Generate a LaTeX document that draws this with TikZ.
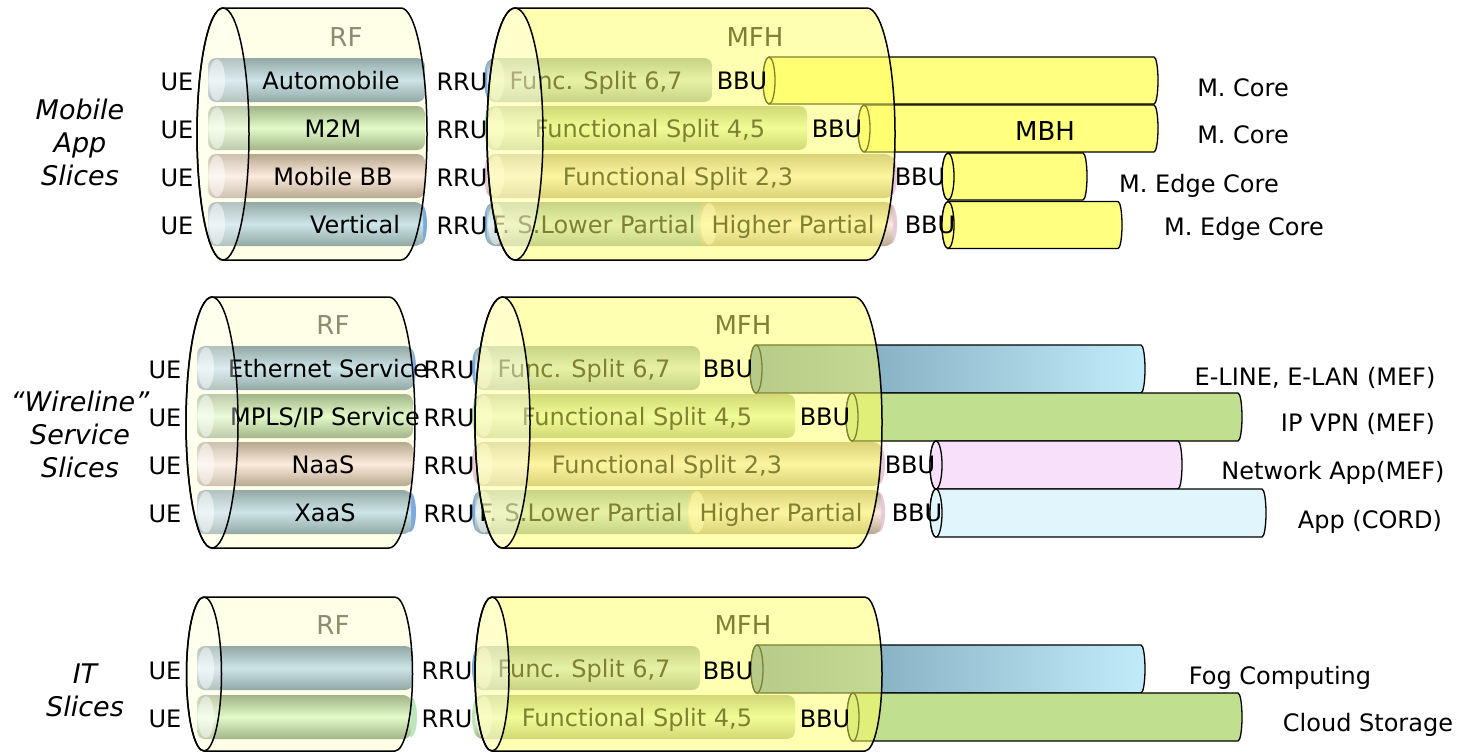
\documentclass[tikz,border=0pt]{standalone}
\usepackage{fontspec}
\setmainfont{DejaVu Sans}
\definecolor{rffill}{RGB}{255,255,232}
\definecolor{mfhfill}{RGB}{255,255,100}
\definecolor{bgD}{RGB}{145,168,165}
\definecolor{bgL}{RGB}{205,228,232}
\definecolor{grD}{RGB}{162,180,136}
\definecolor{grL}{RGB}{226,250,200}
\definecolor{peD}{RGB}{182,168,142}
\definecolor{peL}{RGB}{252,234,220}
\definecolor{capblue}{RGB}{125,170,225}
\definecolor{cappink}{RGB}{232,200,218}
\definecolor{capgreen}{RGB}{190,230,190}
\definecolor{mbh}{RGB}{255,255,128}
\definecolor{svcA}{RGB}{110,152,172}
\definecolor{svcB}{RGB}{192,236,250}
\definecolor{svcgreen}{RGB}{192,224,144}
\definecolor{svcpink}{RGB}{248,224,250}
\definecolor{svcsky}{RGB}{224,245,252}
\definecolor{rflbl}{RGB}{140,140,112}
\newcommand{\itube}[5]{%
  \shade[top color=#4, bottom color=#4, middle color=#5, rounded corners=8pt] (#1,-#3+22) rectangle (#2,-#3-22);
  \fill[white, opacity=0.5] (#1+9,-#3) ellipse[x radius=8, y radius=21];
}
\newcommand{\stube}[6]{%
  \path[#5, draw=black, line width=1.3pt] (#1,-#3+#4) -- (#2,-#3+#4) arc[start angle=90, end angle=-90, x radius=4, y radius=#4] -- (#1,-#3-#4) arc[start angle=270, end angle=90, x radius=6, y radius=#4] -- cycle;
  \path[#6, draw=black, line width=1.3pt] (#1,-#3) ellipse[x radius=6, y radius=#4];
}
\newcommand{\cylbody}[6]{%
  \path[#6] (#1,-#3+#5) -- (#2,-#3+#5) arc[start angle=90,end angle=-90,x radius=#4,y radius=#5] -- (#1,-#3-#5) arc[start angle=270,end angle=90,x radius=#4,y radius=#5] -- cycle;
}
\newcommand{\cylface}[5]{\path[#5] (#1,-#2) ellipse[x radius=#3, y radius=#4];}
\newcommand{\capdot}[3]{\fill[#3] (#1,-#2) ellipse[x radius=6, y radius=20];}
\begin{document}
\begin{tikzpicture}[x=1pt,y=1pt,
  lbl/.style={font=\fontsize{24}{28}\selectfont, inner sep=0pt, anchor=base},
  big/.style={font=\fontsize{26}{30}\selectfont, inner sep=0pt},
  side/.style={font=\fontsize{27}{33}\selectfont\itshape, align=center, inner sep=0pt},
  outl/.style={draw=black, line width=1.5pt}]
\useasboundingbox (0,0) rectangle (1464,-753);

% ================= Section 1 =================
\cylbody{223}{401}{134}{26}{126}{fill=rffill}
\node[big, text=rflbl] (rf1) at (346,-37) {RF};
\capdot{421}{224}{capblue}
\itube{208}{425}{80}{bgD}{bgL}
\itube{208}{425}{128}{grD}{grL}
\itube{208}{425}{176}{peD}{peL}
\itube{208}{423}{224}{bgD}{bgL}
\node[lbl] (t1a) at (331,-89) {Automobile};
\node[lbl] (t1b) at (333,-137) {M2M};
\node[lbl] (t1c) at (333,-185) {Mobile BB};
\node[lbl] (t1d) at (355,-233) {Vertical};
\cylface{223}{134}{26}{126}{fill=white, fill opacity=0.3}
\cylbody{223}{401}{134}{26}{126}{outl}
\cylface{223}{134}{26}{126}{outl}

\capdot{490}{80}{capblue}
\capdot{490}{128}{capgreen}
\capdot{490}{176}{cappink}
\capdot{490}{224}{capblue}
\capdot{891}{176}{cappink}
\capdot{891}{224}{cappink}
\itube{487}{712}{80}{bgD}{bgL}
\itube{487}{807}{128}{grD}{grL}
\itube{487}{893}{176}{peD}{peL}
\itube{487}{717}{224}{bgD}{bgL}
\itube{700}{893}{224}{peD}{peL}
\node[lbl] (m1a) at (596,-89) {Func. Split 6,7};
\node[lbl] (m1b) at (650,-137) {Functional Split 4,5};
\node[lbl] (m1c) at (678,-185) {Functional Split 2,3};
\node[lbl] (m1d) at (594,-233) {F. S.Lower Partial};
\node[lbl] (m1e) at (793,-233) {Higher Partial};
\node[big] (mfh1) at (755,-37) {MFH};
\stube{769}{1154}{80.5}{23.5}{fill=mbh}{fill=mbh}
\stube{864}{1154}{128.5}{23.5}{fill=mbh}{fill=mbh}
\cylbody{515}{867}{134}{28}{126}{fill=mfhfill, fill opacity=0.5}
\cylface{515}{134}{28}{126}{fill=white, fill opacity=0.35}
\cylbody{515}{867}{134}{28}{126}{outl}
\cylface{515}{134}{28}{126}{outl}
\stube{948}{1083}{176.5}{23.5}{fill=mbh}{fill=mbh}
\stube{948}{1118}{225}{23.5}{fill=mbh}{fill=mbh}
\node[big] (mbh1) at (1045,-131) {MBH};
\node[lbl] (b1a) at (742,-89) {BBU};
\node[lbl] (b1b) at (837,-137) {BBU};
\node[lbl] (b1c) at (920,-185) {BBU};
\node[lbl] (b1d) at (930,-233) {BBU};
\node[lbl] (r1a) at (1243,-96) {M. Core};
\node[lbl] (r1b) at (1243,-143) {M. Core};
\node[lbl] (r1c) at (1199,-192) {M. Edge Core};
\node[lbl] (r1d) at (1244,-235) {M. Edge Core};
\node[lbl] (ue1a) at (177,-90) {UE};
\node[lbl] (ue1b) at (177,-138) {UE};
\node[lbl] (ue1c) at (177,-186) {UE};
\node[lbl] (ue1d) at (177,-234) {UE};
\node[lbl] (rru1a) at (462,-90) {RRU};
\node[lbl] (rru1b) at (462,-138) {RRU};
\node[lbl] (rru1c) at (462,-186) {RRU};
\node[lbl] (rru1d) at (462,-234) {RRU};
\node[side] (s1) at (80,-142) {Mobile\\App\\Slices};

% ================= Section 2 =================
\cylbody{212}{389}{422.5}{26}{125.5}{fill=rffill}
\node[big, text=rflbl] (rf2) at (333,-325) {RF};
\capdot{410}{368}{capblue}
\capdot{410}{512}{capblue}
\itube{197}{413}{368}{bgD}{bgL}
\itube{197}{413}{416}{grD}{grL}
\itube{197}{413}{464}{peD}{peL}
\itube{197}{411}{512}{bgD}{bgL}
\node[lbl] (t2a) at (328,-377) {Ethernet Service};
\node[lbl] (t2b) at (325,-425) {MPLS/IP Service};
\node[lbl] (t2c) at (323,-473) {NaaS};
\node[lbl] (t2d) at (325,-521) {XaaS};
\cylface{212}{422.5}{26}{125.5}{fill=white, fill opacity=0.3}
\cylbody{212}{389}{422.5}{26}{125.5}{outl}
\cylface{212}{422.5}{26}{125.5}{outl}

\capdot{478}{368}{capblue}
\capdot{478}{416}{capgreen}
\capdot{478}{464}{cappink}
\capdot{478}{512}{capblue}
\capdot{879}{464}{cappink}
\capdot{879}{512}{cappink}
\itube{475}{700}{368}{bgD}{bgL}
\itube{475}{795}{416}{grD}{grL}
\itube{475}{881}{464}{peD}{peL}
\itube{475}{703}{512}{bgD}{bgL}
\itube{688}{881}{512}{peD}{peL}
\node[lbl] (m2a) at (584,-377) {Func. Split 6,7};
\node[lbl] (m2b) at (637,-425) {Functional Split 4,5};
\node[lbl] (m2c) at (667,-473) {Functional Split 2,3};
\node[lbl] (m2d) at (581,-521) {F. S.Lower Partial};
\node[lbl] (m2e) at (781,-521) {Higher Partial};
\node[big] (mfh2) at (743,-325) {MFH};
\stube{756}{1141}{369}{24}{left color=svcA, right color=svcB}{fill=svcA}
\stube{852}{1238}{417}{24}{fill=svcgreen}{fill=svcgreen}
\cylbody{502.5}{854.5}{422.5}{27.5}{125.5}{fill=mfhfill, fill opacity=0.5}
\cylface{502.5}{422.5}{27.5}{125.5}{fill=white, fill opacity=0.35}
\cylbody{502.5}{854.5}{422.5}{27.5}{125.5}{outl}
\cylface{502.5}{422.5}{27.5}{125.5}{outl}
\stube{936}{1178}{465}{24}{fill=svcpink}{fill=svcpink}
\stube{936}{1262}{513}{24}{fill=svcsky}{fill=svcsky}
\node[lbl] (b2a) at (728,-377) {BBU};
\node[lbl] (b2b) at (825,-425) {BBU};
\node[lbl] (b2c) at (910,-473) {BBU};
\node[lbl] (b2d) at (917,-521) {BBU};
\node[lbl] (r2a) at (1315,-385) {E-LINE, E-LAN (MEF)};
\node[lbl] (r2b) at (1358,-431) {IP VPN (MEF)};
\node[lbl] (r2c) at (1333,-479) {Network App(MEF)};
\node[lbl] (r2d) at (1370,-528) {App (CORD)};
\node[lbl] (ue2a) at (165,-378) {UE};
\node[lbl] (ue2b) at (165,-426) {UE};
\node[lbl] (ue2c) at (165,-474) {UE};
\node[lbl] (ue2d) at (165,-522) {UE};
\node[lbl] (rru2a) at (449,-378) {RRU};
\node[lbl] (rru2b) at (449,-426) {RRU};
\node[lbl] (rru2c) at (449,-474) {RRU};
\node[lbl] (rru2d) at (449,-522) {RRU};
\node[side] (s2) at (80,-434) {“Wireline”\\Service\\Slices};

% ================= Section 3 =================
\cylbody{204}{395}{674}{17.5}{77}{fill=rffill}
\node[big, text=rflbl] (rf3) at (333,-625) {RF};
\capdot{411}{717}{capgreen}
\itube{197}{413}{668}{bgD}{bgL}
\itube{197}{411}{717}{grD}{grL}
\cylface{204}{674}{17.5}{77}{fill=white, fill opacity=0.3}
\cylbody{204}{395}{674}{17.5}{77}{outl}
\cylface{204}{674}{17.5}{77}{outl}

\capdot{478}{668}{capblue}
\capdot{478}{717}{capgreen}
\itube{475}{700}{668}{bgD}{bgL}
\itube{475}{795}{717}{grD}{grL}
\node[lbl] (m3a) at (584,-677) {Func. Split 6,7};
\node[lbl] (m3b) at (637,-726) {Functional Split 4,5};
\node[big] (mfh3) at (743,-625) {MFH};
\stube{757}{1141}{669}{24}{left color=svcA, right color=svcB}{fill=svcA}
\stube{853}{1238}{717}{24}{fill=svcgreen}{fill=svcgreen}
\cylbody{492}{865}{674}{17}{77}{fill=mfhfill, fill opacity=0.5}
\cylface{492}{674}{17}{77}{fill=white, fill opacity=0.35}
\cylbody{492}{865}{674}{17}{77}{outl}
\cylface{492}{674}{17}{77}{outl}
\node[lbl] (b3a) at (728,-679) {BBU};
\node[lbl] (b3b) at (825,-727) {BBU};
\node[lbl] (r3a) at (1280,-684) {Fog Computing};
\node[lbl] (r3b) at (1368,-731) {Cloud Storage};
\node[lbl] (ue3a) at (165,-679) {UE};
\node[lbl] (ue3b) at (165,-727) {UE};
\node[lbl] (rru3a) at (447,-679) {RRU};
\node[lbl] (rru3b) at (447,-727) {RRU};
\node[side] (s3) at (85,-690) {IT\\Slices};
\end{tikzpicture}
\end{document}
